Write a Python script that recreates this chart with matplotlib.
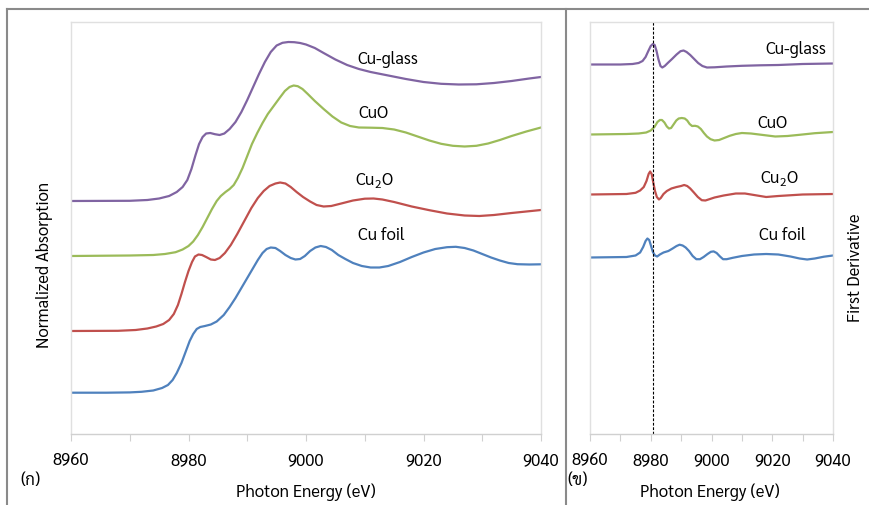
import numpy as np
import matplotlib
matplotlib.use('Agg')
import matplotlib.pyplot as plt
from matplotlib.lines import Line2D
from matplotlib.ticker import MultipleLocator, FuncFormatter

plt.rcParams['font.family'] = ['Sarabun', 'DejaVu Sans']
plt.rcParams['mathtext.fontset'] = 'custom'
plt.rcParams['mathtext.rm'] = 'Sarabun'

# ---- XANES spectra (energy in eV, stacked normalized absorption) ----
foil_e = [8960, 8966, 8970, 8972, 8974, 8975.5, 8976.5, 8977.3, 8978, 8978.8,
          8979.5, 8980.2, 8980.8, 8981.4, 8982, 8982.8, 8983.8, 8984.8, 8986, 8987,
          8988, 8989, 8990, 8991, 8991.8, 8992.6, 8993.3, 8994, 8994.8, 8995.6,
          8996.5, 8997.4, 8998.2, 8999, 8999.8, 9000.7, 9001.6, 9002.5, 9003.4, 9004.4,
          9005.5, 9006.7, 9008, 9009.5, 9011, 9012.5, 9014, 9016, 9018, 9020,
          9022, 9024, 9025.5, 9027, 9028.5, 9030, 9031.5, 9033, 9034.5, 9036,
          9038, 9040]
foil_a = [0.413, 0.413, 0.416, 0.422, 0.435, 0.46, 0.49, 0.54, 0.61, 0.71,
          0.82, 0.93, 1.00, 1.05, 1.07, 1.08, 1.095, 1.125, 1.19, 1.27,
          1.36, 1.46, 1.56, 1.66, 1.74, 1.81, 1.85, 1.865, 1.86, 1.83,
          1.79, 1.76, 1.745, 1.75, 1.78, 1.83, 1.865, 1.88, 1.87, 1.84,
          1.79, 1.75, 1.71, 1.68, 1.665, 1.665, 1.68, 1.72, 1.77, 1.815,
          1.85, 1.868, 1.872, 1.86, 1.835, 1.80, 1.765, 1.735, 1.71, 1.698,
          1.695, 1.697]

cu2o_e = [8960, 8968, 8971, 8973, 8974.5, 8975.7, 8976.7, 8977.5, 8978.2, 8978.8,
          8979.4, 8980, 8980.6, 8981.1, 8981.7, 8982.3, 8983, 8983.8, 8984.5, 8985.3,
          8986.2, 8987.2, 8988.3, 8989.5, 8990.7, 8991.8, 8992.8, 8993.8, 8994.8, 8995.6,
          8996.5, 8997.4, 8998.4, 8999.5, 9000.7, 9001.8, 9003, 9004.3, 9006, 9008,
          9010, 9011.5, 9013, 9015, 9018, 9021, 9024, 9027, 9029.5, 9032,
          9035, 9038, 9040]
cu2o_a = [1.03, 1.032, 1.04, 1.055, 1.075, 1.10, 1.14, 1.20, 1.29, 1.40,
          1.52, 1.63, 1.72, 1.775, 1.795, 1.79, 1.77, 1.745, 1.74, 1.76,
          1.81, 1.89, 2.00, 2.13, 2.26, 2.36, 2.43, 2.48, 2.505, 2.515,
          2.505, 2.47, 2.42, 2.37, 2.325, 2.29, 2.275, 2.28, 2.305, 2.335,
          2.353, 2.355, 2.345, 2.32, 2.275, 2.238, 2.205, 2.185, 2.18, 2.19,
          2.21, 2.228, 2.24]

cuo_e = [8960, 8970, 8974, 8976, 8977.8, 8979, 8980, 8980.8, 8981.6, 8982.4,
         8983.2, 8984, 8984.8, 8985.5, 8986.3, 8987, 8987.7, 8988.4, 8989.2, 8990,
         8990.8, 8991.7, 8992.6, 8993.5, 8994.5, 8995.5, 8996.4, 8997.2, 8997.9, 8998.6,
         8999.4, 9000.3, 9001.5, 9003, 9004.5, 9006, 9007.5, 9009, 9011, 9013,
         9015, 9017, 9019, 9021, 9023, 9025, 9027, 9029, 9031, 9033,
         9035, 9037.5, 9040]
cuo_a = [1.78, 1.785, 1.79, 1.80, 1.818, 1.845, 1.88, 1.925, 1.99, 2.07,
         2.16, 2.25, 2.33, 2.38, 2.42, 2.45, 2.49, 2.56, 2.66, 2.78,
         2.90, 3.01, 3.11, 3.20, 3.28, 3.36, 3.43, 3.47, 3.485, 3.478,
         3.45, 3.40, 3.33, 3.25, 3.175, 3.115, 3.08, 3.065, 3.063, 3.06,
         3.045, 3.015, 2.975, 2.935, 2.902, 2.882, 2.875, 2.882, 2.905, 2.94,
         2.98, 3.025, 3.065]

glass_e = [8960, 8970, 8973, 8975, 8976.7, 8978, 8979, 8979.8, 8980.5, 8981.2,
           8981.8, 8982.4, 8983, 8983.7, 8984.5, 8985.3, 8986.1, 8987, 8988, 8989,
           8990, 8991, 8992, 8993, 8994, 8995, 8996, 8997, 8998, 8999,
           9000, 9001.5, 9003, 9005, 9007, 9009, 9011, 9014, 9017, 9020,
           9023, 9026, 9029, 9032, 9035, 9038, 9040]
glass_a = [2.33, 2.332, 2.34, 2.355, 2.38, 2.42, 2.47, 2.54, 2.65, 2.79,
           2.90, 2.97, 3.005, 3.01, 2.998, 2.99, 3.005, 3.05, 3.12, 3.22,
           3.34, 3.47, 3.60, 3.72, 3.82, 3.885, 3.912, 3.92, 3.918, 3.91,
           3.895, 3.86, 3.81, 3.745, 3.69, 3.65, 3.62, 3.585, 3.55, 3.52,
           3.502, 3.495, 3.497, 3.51, 3.53, 3.555, 3.57]

# ---- first derivative (stacked) ----
d_glass_e = [8960, 8970, 8974, 8976, 8977.3, 8978.3, 8979.2, 8980, 8980.7, 8981.3,
             8981.9, 8982.5, 8983.2, 8983.8, 8984.6, 8985.6, 8987, 8988.5, 8989.8, 8990.8,
             8991.8, 8993, 8994.3, 8995.6, 8997, 8998.5, 9001, 9005, 9010, 9016,
             9022, 9030, 9040]
d_glass = [3.695, 3.695, 3.70, 3.71, 3.73, 3.77, 3.83, 3.88, 3.90, 3.89,
           3.83, 3.75, 3.68, 3.665, 3.68, 3.71, 3.75, 3.795, 3.828, 3.835,
           3.82, 3.79, 3.75, 3.71, 3.68, 3.665, 3.667, 3.675, 3.682, 3.687,
           3.69, 3.70, 3.705]

d_cuo_e = [8960, 8972, 8976, 8978.5, 8980, 8981.2, 8982.2, 8983, 8983.7, 8984.5,
           8985.3, 8986, 8986.7, 8987.5, 8988.4, 8989.2, 8990.2, 8991.2, 8992, 8992.8,
           8993.6, 8994.6, 8995.5, 8996.5, 8997.5, 8998.5, 8999.7, 9001, 9002.5, 9004,
           9006, 9008, 9010, 9013, 9017, 9021, 9025, 9029, 9034, 9040]
d_cuo = [2.995, 3.00, 3.005, 3.015, 3.035, 3.07, 3.12, 3.14, 3.14, 3.115,
         3.075, 3.055, 3.06, 3.095, 3.135, 3.155, 3.16, 3.155, 3.135, 3.10,
         3.08, 3.082, 3.075, 3.05, 3.01, 2.975, 2.948, 2.935, 2.94, 2.958,
         2.982, 3.00, 3.01, 3.005, 2.99, 2.975, 2.98, 2.992, 3.008, 3.02]

d_cu2o_e = [8960, 8972, 8975, 8976.5, 8977.7, 8978.6, 8979.3, 8979.8, 8980.3, 8980.8,
            8981.4, 8982, 8982.7, 8983.3, 8984.2, 8985.3, 8986.8, 8988.5, 8990, 8991,
            8992, 8993, 8994.2, 8995.5, 8996.8, 8998, 8999.5, 9001, 9004, 9008,
            9011, 9014, 9018, 9022, 9030, 9040]
d_cu2o = [2.395, 2.40, 2.412, 2.435, 2.47, 2.53, 2.60, 2.625, 2.60, 2.52,
          2.43, 2.37, 2.345, 2.36, 2.40, 2.43, 2.455, 2.47, 2.48, 2.49,
          2.48, 2.455, 2.415, 2.37, 2.338, 2.335, 2.35, 2.365, 2.385, 2.405,
          2.405, 2.39, 2.37, 2.38, 2.395, 2.40]

d_foil_e = [8960, 8972, 8975, 8976.5, 8977.5, 8978.3, 8978.9, 8979.5, 8980.1, 8980.7,
            8981.4, 8982.1, 8983, 8984.2, 8985.8, 8987.2, 8988.5, 8989.5, 8990.5, 8991.5,
            8992.6, 8993.8, 8995, 8996.2, 8997.4, 8998.7, 8999.8, 9000.7, 9001.7, 9002.8,
            9003.8, 9005, 9007, 9010, 9014, 9018, 9022, 9026, 9029, 9031.5,
            9034, 9037, 9040]
d_foil = [1.765, 1.77, 1.785, 1.815, 1.87, 1.93, 1.955, 1.94, 1.88, 1.82,
          1.785, 1.775, 1.795, 1.815, 1.83, 1.855, 1.88, 1.893, 1.885, 1.865,
          1.83, 1.78, 1.748, 1.748, 1.77, 1.80, 1.822, 1.826, 1.81, 1.775,
          1.748, 1.748, 1.762, 1.78, 1.795, 1.80, 1.795, 1.775, 1.755, 1.745,
          1.755, 1.773, 1.785]

edge_e = 8980.8

names = ['Cu-glass', 'CuO', 'Cu$_2$O', 'Cu foil']
colors = ['#8064A2', '#9BBB59', '#C0504D', '#4F81BD']
left_lbl = [(9014.0, 3.74), (9011.4, 3.21), (9011.7, 2.54), (9012.9, 1.98)]
right_lbl = [(9027.8, 3.84), (9019.9, 3.11), (9022.2, 2.56), (9023.2, 1.98)]

fig = plt.figure(figsize=(8.69, 5.05), dpi=100)
ax1 = fig.add_axes([71 / 869, 71 / 505, 470 / 869, 412 / 505])
ax2 = fig.add_axes([590 / 869, 71 / 505, 243 / 869, 412 / 505])

spectra = [(glass_e, glass_a), (cuo_e, cuo_a), (cu2o_e, cu2o_a), (foil_e, foil_a)]
derivs = [(d_glass_e, d_glass), (d_cuo_e, d_cuo), (d_cu2o_e, d_cu2o), (d_foil_e, d_foil)]

for (e, a), c in zip(spectra, colors):
    ax1.plot(e, a, color=c, linewidth=1.6, solid_joinstyle='round')
for (e, d), c in zip(derivs, colors):
    ax2.plot(e, d, color=c, linewidth=1.6, solid_joinstyle='round')
ax2.axvline(edge_e, color='black', linestyle=(0, (2.5, 1.5)), linewidth=0.8)

for n, (x, y) in zip(names, left_lbl):
    ax1.text(x, y, n, ha='center', va='center', fontsize=12)
for n, (x, y) in zip(names, right_lbl):
    ax2.text(x, y, n, ha='center', va='center', fontsize=12)


def fmt(v, pos):
    return '%d' % v if round(v) % 20 == 0 else ''


for ax in (ax1, ax2):
    ax.set_xlim(8960, 9040)
    ax.set_ylim(0, 4.12)
    ax.xaxis.set_major_locator(MultipleLocator(10))
    ax.xaxis.set_major_formatter(FuncFormatter(fmt))
    ax.set_yticks([])
    for s in ax.spines.values():
        s.set_color('#e0e0e0')
        s.set_linewidth(1.0)
    ax.spines['bottom'].set_color('#d0d0d0')
    ax.tick_params(axis='x', direction='out', length=5, color='#d0d0d0',
                   labelsize=12, pad=8)

fig.text(45 / 869, 1 - 265 / 505, 'Normalized Absorption', rotation=90,
         ha='center', va='center', fontsize=12)
fig.text(856 / 869, 1 - 268 / 505, 'First Derivative', rotation=90,
         ha='center', va='center', fontsize=12)
fig.text(306 / 869, 1 - 492 / 505, 'Photon Energy (eV)', ha='center', va='center', fontsize=12)
fig.text(710 / 869, 1 - 492 / 505, 'Photon Energy (eV)', ha='center', va='center', fontsize=12)
fig.text(30 / 869, 1 - 481 / 505, '(ก)', ha='center', va='center', fontsize=12)
fig.text(578 / 869, 1 - 481 / 505, '(ข)', ha='center', va='center', fontsize=12)

# outer frame of the figure
fig.add_artist(Line2D([7 / 869, 1], [1 - 9 / 505] * 2, color='#8a8a8a', lw=1.5))
fig.add_artist(Line2D([7 / 869] * 2, [0, 1 - 9 / 505], color='#8a8a8a', lw=1.5))
fig.add_artist(Line2D([566 / 869] * 2, [0, 1 - 9 / 505], color='#8a8a8a', lw=1.5))

fig.savefig('out.png', dpi=100)
